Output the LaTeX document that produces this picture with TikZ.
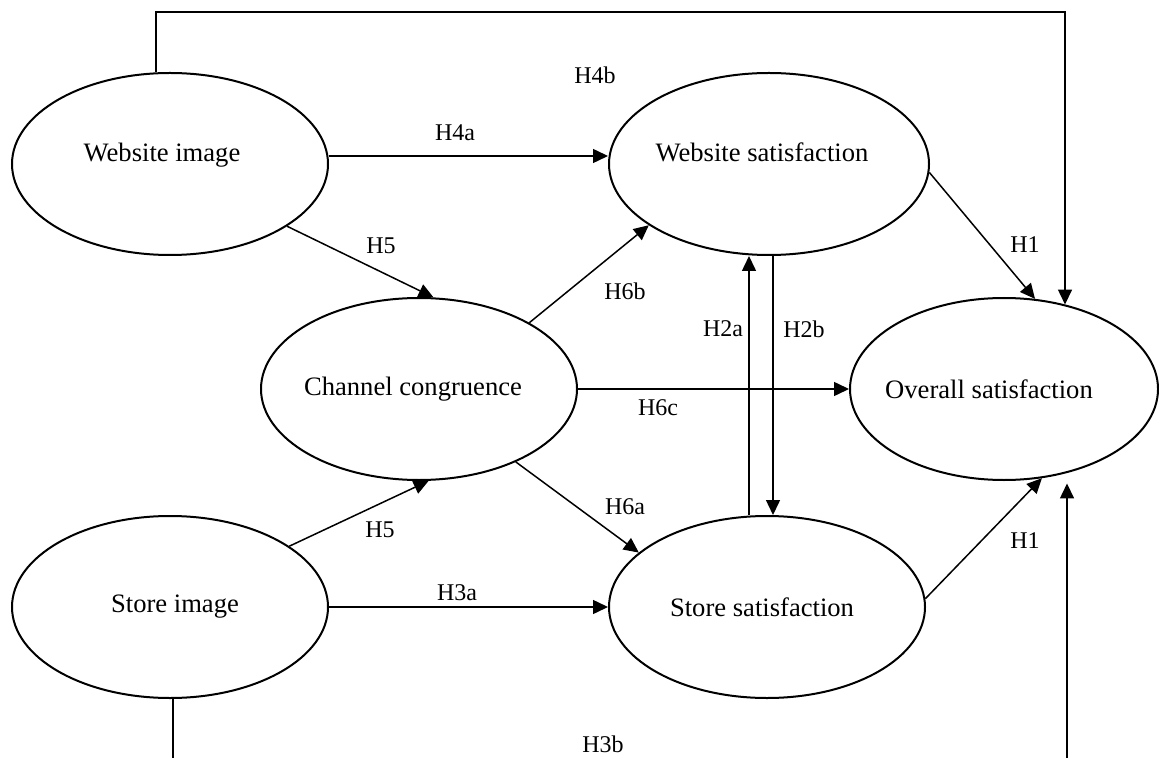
\documentclass[tikz,border=0pt]{standalone}
\usepackage{fontspec}
\setmainfont{Liberation Serif}
\usetikzlibrary{arrows.meta,shapes.geometric}

\tikzset{
	construct/.style={draw, ellipse, line width=1pt, inner ysep=0pt, inner xsep=-12pt,
		minimum width=158pt, minimum height=91pt,
		font=\fontsize{13.3}{16}\selectfont},
	upper/.style={text depth=12pt},
	link/.style={line width=0.75pt, -{Triangle[length=7.5pt,width=7pt]}},
	hyp/.style={inner sep=0pt, font=\fontsize{12}{14}\selectfont}
}

\begin{document}
\begin{tikzpicture}[x=0.5pt, y=-0.5pt]
	\useasboundingbox (0,0) rectangle (1159,758);
	\clip (0,0) rectangle (1159,758);

	%constructs
	\node[construct, upper] (wimg) at (170,164) {Website image\hspace*{8pt}};
	\node[construct, upper, minimum width=160pt] (wsat) at (769,164) {Website satisfaction\hspace*{7pt}};
	\node[construct] (chan) at (419,389) {Channel congruence\hspace*{6pt}};
	\node[construct, minimum width=154pt] (osat) at (1004,389) {Overall satisfaction\hspace*{15pt}};
	\node[construct] (simg) at (170,607) {\hspace*{5pt}Store image};
	\node[construct] (ssat) at (767,607) {Store satisfaction\hspace*{5pt}};

	%turning points of the long paths
	\coordinate (h4bturn) at (1065,12);
	\coordinate (h3bturn) at (1067,790);

	%paths
	\draw[link] ([xshift=-7pt]wimg.north) |- (h4bturn) -- (h4bturn |- osat.54);
	\draw[link] ([yshift=4pt]wimg.east) -- ([yshift=4pt]wsat.west);
	\draw[link] (wimg.-28) -- (chan.81);
	\draw[link] (simg.27) -- (chan.-84);
	\draw[link] (simg.east) -- (ssat.west);
	\draw[link, shorten >=5pt] ([xshift=1.5pt]simg.south) |- (h3bturn) -- (h3bturn |- osat.-54);
	\draw[link] (chan.31) -- (wsat.207);
	\draw[link] (chan.-37) -- (ssat.157);
	\draw[link] (chan.east) -- (osat.west);
	\draw[link] ([xshift=-9pt]ssat.north) -- ([xshift=-9pt]ssat.north |- wsat.south);
	\draw[link] ([xshift=2pt]wsat.south) -- ([xshift=2pt]wsat.south |- ssat.north);
	\draw[link] (wsat.-3) -- (osat.71);
	\draw[link] (ssat.3) -- (osat.-67);

	%hypotheses
	\node[hyp] (lh4b) at (595,75) {H4b};
	\node[hyp] (lh4a) at (455,133) {H4a};
	\node[hyp] (lh5w) at (381,246) {H5};
	\node[hyp] (lh6b) at (625,291) {H6b};
	\node[hyp] (lh1w) at (1025,245) {H1};
	\node[hyp] (lh2a) at (723,329) {H2a};
	\node[hyp] (lh2b) at (804,329) {H2b};
	\node[hyp] (lh6c) at (658,408) {H6c};
	\node[hyp] (lh6a) at (625,507) {H6a};
	\node[hyp] (lh5s) at (380,530) {H5};
	\node[hyp] (lh1s) at (1025,541) {H1};
	\node[hyp] (lh3a) at (457,593) {H3a};
	\node[hyp] (lh3b) at (603,744) {H3b};
\end{tikzpicture}
\end{document}
